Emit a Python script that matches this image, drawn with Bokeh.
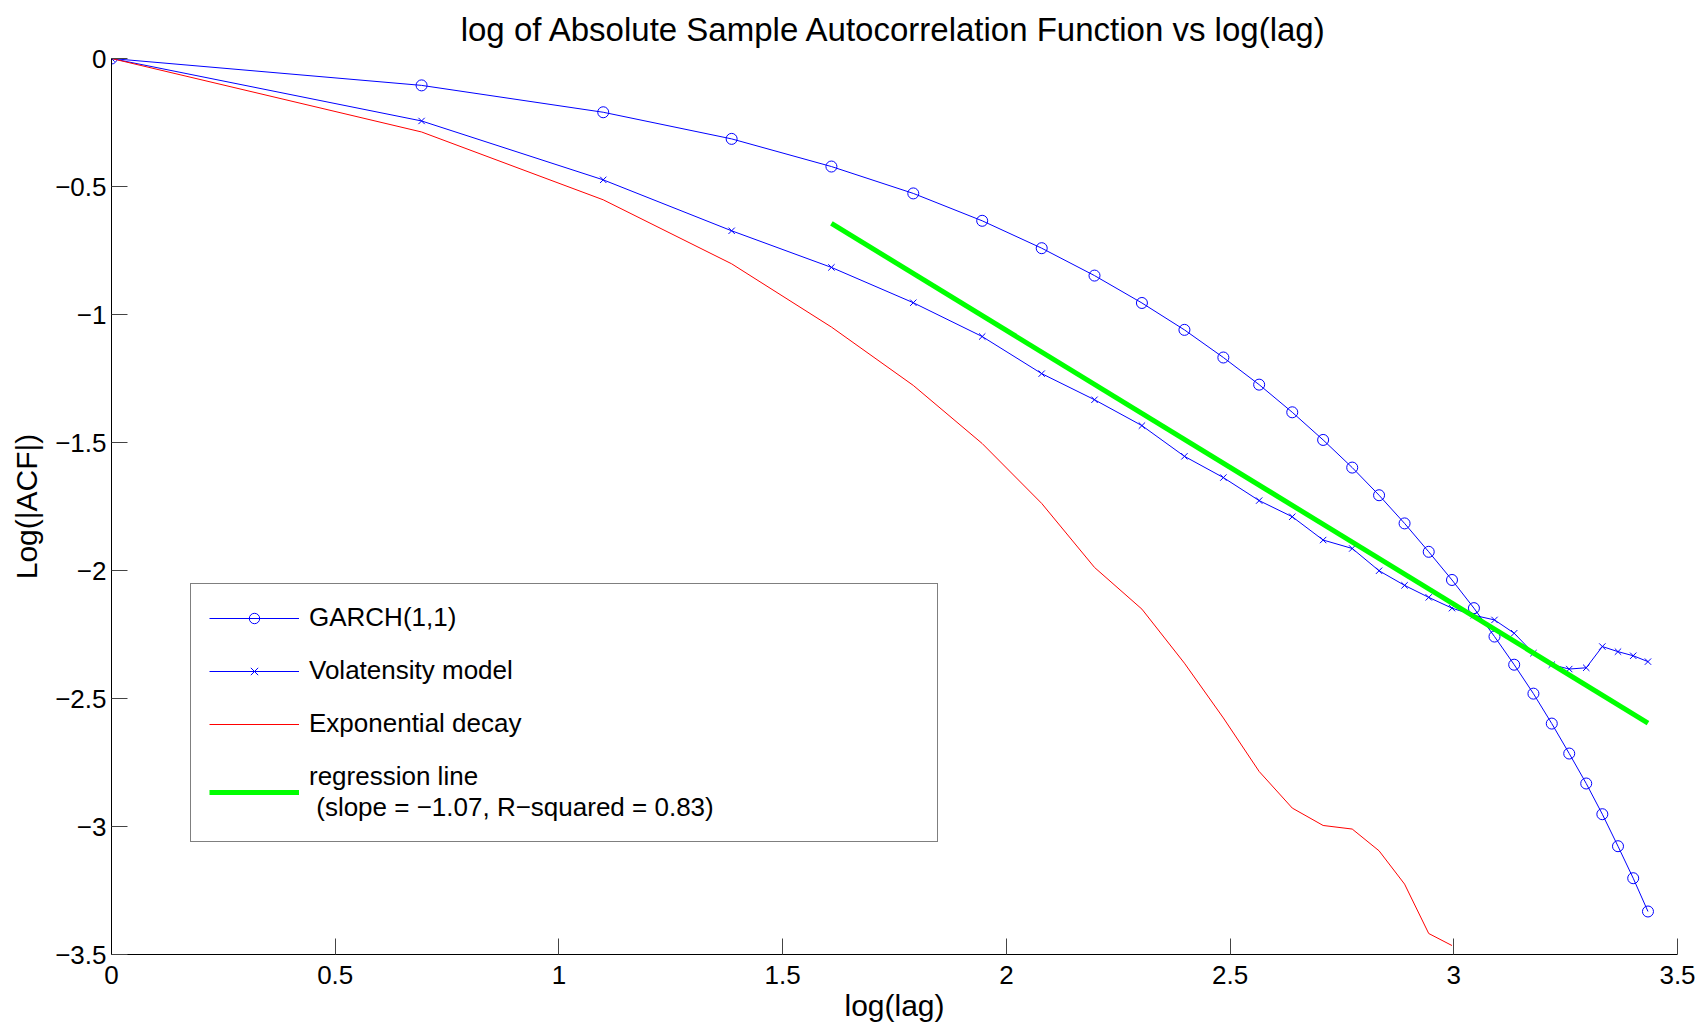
from bokeh.plotting import figure
from bokeh.models import Legend, LegendItem, FixedTicker, Range1d
from bokeh.embed import file_html
from bokeh.resources import INLINE

# log(lag) for lags 1..31
log_lag = [0.000, 0.693, 1.099, 1.386, 1.609, 1.792, 1.946, 2.079, 2.197, 2.303,
           2.398, 2.485, 2.565, 2.639, 2.708, 2.773, 2.833, 2.890, 2.944, 2.996,
           3.045, 3.091, 3.135, 3.178, 3.219, 3.258, 3.296, 3.332, 3.367, 3.401, 3.434]

garch = [0.000, -0.105, -0.210, -0.314, -0.422, -0.527, -0.634, -0.741, -0.848, -0.955,
         -1.060, -1.168, -1.274, -1.382, -1.490, -1.598, -1.706, -1.816, -1.927, -2.037,
         -2.147, -2.258, -2.368, -2.481, -2.598, -2.715, -2.832, -2.952, -3.077, -3.202, -3.332]

volatensity = [0.000, -0.244, -0.474, -0.673, -0.816, -0.954, -1.086, -1.231, -1.333, -1.434,
               -1.554, -1.637, -1.727, -1.790, -1.881, -1.914, -2.001, -2.058, -2.105, -2.147,
               -2.175, -2.193, -2.245, -2.323, -2.368, -2.385, -2.380, -2.297, -2.317, -2.333, -2.356]

# exponential decay, lags 1..20
exp_x = log_lag[:20]
exp_decay = [0.000, -0.287, -0.552, -0.802, -1.049, -1.277, -1.504, -1.738, -1.988, -2.151,
             -2.362, -2.576, -2.785, -2.928, -2.996, -3.010, -3.095, -3.225, -3.418, -3.465]

# regression line endpoints (lag 5 .. lag 31)
reg_x = [1.609, 3.434]
reg_y = [-0.644, -2.596]

x_ticks = [0, 0.5, 1, 1.5, 2, 2.5, 3, 3.5]
x_tick_labels = ["0", "0.5", "1", "1.5", "2", "2.5", "3", "3.5"]
y_ticks = [0, -0.5, -1, -1.5, -2, -2.5, -3, -3.5]
y_tick_labels = ["0", "\u22120.5", "\u22121", "\u22121.5", "\u22122", "\u22122.5", "\u22123", "\u22123.5"]

FONT = "Liberation Sans"

p = figure(width=1700, height=1024, output_backend="svg", toolbar_location=None,
           x_range=Range1d(0, 3.5), y_range=Range1d(-3.5, 0),
           min_border_left=111, min_border_right=23, min_border_top=58, min_border_bottom=69,
           title="log of Absolute Sample Autocorrelation Function vs log(lag)")
p.outline_line_color = None
p.grid.visible = False
p.background_fill_color = "white"
p.border_fill_color = "white"

p.title.align = "center"
p.title.vertical_align = "top"
p.title.text_font = FONT
p.title.text_font_size = "33px"
p.title.text_font_style = "normal"
p.title.text_color = "black"
p.title.standoff = 17

for ax, ticks, labels in ((p.xaxis[0], x_ticks, x_tick_labels), (p.yaxis[0], y_ticks, y_tick_labels)):
    ax.ticker = FixedTicker(ticks=ticks)
    ax.major_label_overrides = {t: l for t, l in zip(ticks, labels)}
    ax.minor_tick_line_color = None
    ax.major_tick_in = 16
    ax.major_tick_out = 0
    ax.major_tick_line_color = "#444444"
    ax.axis_line_color = "black"
    ax.major_label_text_font = FONT
    ax.major_label_text_font_size = "26px"
    ax.major_label_text_color = "black"
    ax.axis_label_text_font = FONT
    ax.axis_label_text_font_size = "30px"
    ax.axis_label_text_font_style = "normal"
    ax.axis_label_text_color = "black"

p.xaxis.axis_label = "log(lag)"
p.yaxis.axis_label = "Log(|ACF|)"
p.xaxis.major_label_standoff = 11
p.xaxis.axis_label_standoff = 2
p.yaxis.major_label_standoff = 5
p.yaxis.axis_label_standoff = 9

blue = "#0000FF"
g_line = p.line(log_lag, garch, line_color=blue, line_width=1)
g_mark = p.scatter(log_lag, garch, marker="circle", size=11, fill_color=None, line_color=blue, line_width=1)
v_line = p.line(log_lag, volatensity, line_color=blue, line_width=1)
v_mark = p.scatter(log_lag, volatensity, marker="x", size=9, line_color=blue, line_width=1)
e_line = p.line(exp_x, exp_decay, line_color="#FF0000", line_width=1)
r_line = p.line(reg_x, reg_y, line_color="#00FF00", line_width=5)

legend = Legend(items=[
    LegendItem(label="GARCH(1,1)", renderers=[g_line, g_mark]),
    LegendItem(label="Volatensity model", renderers=[v_line, v_mark]),
    LegendItem(label="Exponential decay", renderers=[e_line]),
    LegendItem(label="regression line\n (slope = \u22121.07, R\u2212squared = 0.83)", renderers=[r_line]),
], location=(79, 112))
legend.border_line_color = "black"
legend.border_line_width = 1
legend.background_fill_color = "white"
legend.background_fill_alpha = 1
legend.label_text_font = FONT
legend.label_text_font_size = "26px"
legend.label_text_color = "black"
legend.glyph_width = 90
legend.glyph_height = 26
legend.label_standoff = 10
legend.label_height = 26
legend.label_width = 610
legend.padding = 18
legend.spacing = 22
legend.margin = 0
p.add_layout(legend, "center")

open("out.html", "w").write(file_html(p, INLINE))
